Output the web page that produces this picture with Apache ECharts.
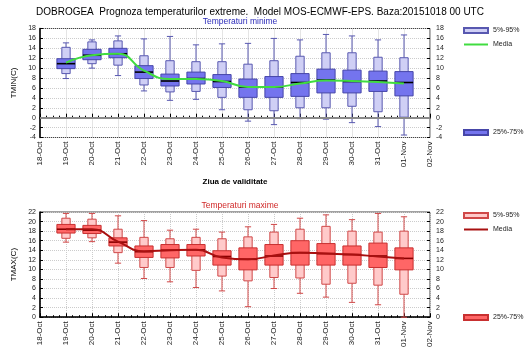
<!DOCTYPE html>
<html>
<head>
<meta charset="utf-8">
<script src="https://cdn.jsdelivr.net/npm/echarts@6/dist/echarts.min.js"></script>
<style>
  html, body { margin: 0; padding: 0; background: #fff; }
  #chart { width: 525px; height: 350px; }
</style>
</head>
<body>
<div id="chart"></div>
<script>
// zilele (etichete axa X)
var dates = ['18-Oct', '19-Oct', '20-Oct', '21-Oct', '22-Oct', '23-Oct', '24-Oct', '25-Oct',
  '26-Oct', '27-Oct', '28-Oct', '29-Oct', '30-Oct', '31-Oct', '01-Nov', '02-Nov'];

// TMIN - percentile pe zi (19-Oct .. 01-Nov)
var tminMax = [15.1, 15.7, 16.5, 15.9, 16.4, 14.7, 14.9, 15.0, 16.0, 15.7, 16.8, 16.5, 15.7, 16.7];
var tminP95 = [14.2, 15.3, 15.5, 12.5, 11.5, 11.3, 11.3, 10.8, 11.5, 12.4, 13.1, 13.1, 12.2, 12.1];
var tminP75 = [11.9, 13.8, 14.0, 10.5, 8.8, 9.2, 8.7, 7.8, 8.3, 8.9, 9.8, 9.6, 9.4, 9.3];
var tminMed = [10.9, 12.6, 12.9, 9.2, 7.4, 7.9, 7.3, 6.2, 6.2, 7.1, 7.6, 7.3, 7.4, 7.1];
var tminP25 = [9.9, 11.7, 12.1, 7.9, 6.4, 6.8, 6.1, 4.1, 4.1, 4.3, 5.0, 5.0, 5.3, 4.4];
var tminP5 = [8.9, 10.9, 10.6, 6.6, 5.2, 5.3, 4.1, 1.6, 1.4, 2.0, 2.0, 2.3, 1.2, 0.1];
var tminMin = [7.9, 10.0, 8.5, 5.4, 3.5, 3.7, 1.6, -0.7, -1.4, -0.2, -0.3, -1.0, -1.8, -3.5];
var tminMean = [11.1, 12.6, 12.9, 9.5, 7.8, 7.8, 7.4, 6.2, 6.2, 6.9, 7.5, 7.4, 7.2, 6.9];

// TMAX
var tmaxMax = [21.7, 21.7, 21.2, 20.2, 18.2, 18.4, 17.8, 18.9, 19.4, 20.7, 21.4, 20.4, 21.7, 21.0];
var tmaxP95 = [20.7, 20.5, 18.4, 16.7, 16.4, 16.7, 16.4, 16.8, 17.8, 18.4, 19.0, 18.0, 17.8, 18.0];
var tmaxP75 = [19.4, 19.2, 16.6, 14.9, 15.2, 15.2, 13.9, 14.5, 15.2, 16.0, 15.4, 14.9, 15.5, 14.5];
var tmaxMed = [18.4, 18.2, 15.7, 13.7, 14.0, 14.1, 12.7, 12.1, 12.8, 13.5, 13.3, 13.1, 12.8, 12.3];
var tmaxP25 = [17.6, 17.5, 14.9, 12.5, 12.4, 12.8, 10.9, 9.9, 10.9, 10.9, 10.9, 10.9, 10.4, 9.9];
var tmaxP5 = [16.5, 16.6, 13.5, 10.4, 10.4, 9.8, 8.6, 7.6, 8.3, 8.2, 6.9, 7.1, 6.7, 4.8];
var tmaxMin = [15.7, 15.8, 11.3, 8.1, 7.4, 6.2, 5.5, 2.2, 6.0, 5.0, 4.2, 3.1, 2.6, 0.0];
var tmaxMean = [18.4, 18.4, 15.8, 13.8, 14.0, 14.1, 12.5, 12.1, 12.9, 13.5, 13.3, 13.1, 12.7, 12.3];

var FONT = 'Liberation Sans';
var LINE_ICON = 'path://M0,0 L24,0 L24,2 L0,2 Z';

// date pentru seriile custom: [zi, min, p5, p95, max] si [zi, p25, med, p75]
function outerData(mn, p5, p95, mx) {
  return mn.map(function (v, i) { return [i + 1, v, p5[i], p95[i], mx[i]]; });
}
function innerData(p25, med, p75) {
  return p25.map(function (v, i) { return [i + 1, v, med[i], p75[i]]; });
}
function meanData(arr) {
  return arr.map(function (v, i) { return [i + 1, v]; });
}

// cutia 5%-95% + mustati
function outerRender(fill, stroke) {
  return function (params, api) {
    var x = api.value(0);
    var w = api.size([1, 0])[0];
    var pMin = api.coord([x, api.value(1)]);
    var p5 = api.coord([x, api.value(2)]);
    var p95 = api.coord([x, api.value(3)]);
    var pMax = api.coord([x, api.value(4)]);
    var bw = w * 0.32, cw = w * 0.24;
    var ls = { stroke: stroke, lineWidth: 1 };
    return {
      type: 'group',
      children: [
        { type: 'line', shape: { x1: pMax[0], y1: pMax[1], x2: p95[0], y2: p95[1] }, style: ls },
        { type: 'line', shape: { x1: p5[0], y1: p5[1], x2: pMin[0], y2: pMin[1] }, style: ls },
        { type: 'line', shape: { x1: pMax[0] - cw / 2, y1: pMax[1], x2: pMax[0] + cw / 2, y2: pMax[1] }, style: ls },
        { type: 'line', shape: { x1: pMin[0] - cw / 2, y1: pMin[1], x2: pMin[0] + cw / 2, y2: pMin[1] }, style: ls },
        { type: 'rect', shape: { x: p95[0] - bw / 2, y: p95[1], width: bw, height: p5[1] - p95[1] },
          style: { fill: fill, stroke: stroke, lineWidth: 1 } }
      ]
    };
  };
}

// cutia 25%-75% + mediana
function innerRender(fill, stroke, medColor) {
  return function (params, api) {
    var x = api.value(0);
    var w = api.size([1, 0])[0];
    var p25 = api.coord([x, api.value(1)]);
    var med = api.coord([x, api.value(2)]);
    var p75 = api.coord([x, api.value(3)]);
    var bw = w * 0.7;
    return {
      type: 'group',
      children: [
        { type: 'rect', shape: { x: p75[0] - bw / 2, y: p75[1], width: bw, height: p25[1] - p75[1] },
          style: { fill: fill, stroke: stroke, lineWidth: 1 } },
        { type: 'line', shape: { x1: med[0] - bw / 2, y1: med[1], x2: med[0] + bw / 2, y2: med[1] },
          style: { stroke: medColor, lineWidth: 1.6 } }
      ]
    };
  };
}

function xAxisCfg(gridIndex, name) {
  return {
    type: 'value', gridIndex: gridIndex, min: 0, max: 15, interval: 1,
    name: name, nameLocation: 'middle', nameGap: 40,
    nameTextStyle: { fontSize: 8, color: '#000', fontFamily: FONT, fontWeight: 'bold' },
    axisLine: { lineStyle: { color: '#000', width: 1.5 } },
    axisTick: { inside: true, length: 4, lineStyle: { color: '#000' } },
    minorTick: { show: true, splitNumber: 4, length: 2, lineStyle: { color: '#000' } },
    axisLabel: {
      rotate: 90, fontSize: 8, color: '#222', fontFamily: FONT, margin: 4,
      formatter: function (v) { return dates[v] || ''; }
    },
    splitLine: { show: true, lineStyle: { color: '#ccc', type: 'dotted' } }
  };
}

function yAxisCfg(gridIndex, min, max, name, right) {
  return {
    type: 'value', gridIndex: gridIndex, min: min, max: max, interval: 2,
    position: right ? 'right' : 'left',
    name: right ? '' : name, nameLocation: 'middle', nameGap: 22,
    nameTextStyle: { fontSize: 8, color: '#000', fontFamily: FONT },
    axisLine: { show: !right, lineStyle: { color: '#000', width: 1.5 } },
    axisTick: { show: true, inside: true, length: 3, lineStyle: { color: '#000' } },
    axisLabel: { fontSize: 7, color: '#222', fontFamily: FONT, margin: right ? 6 : 4 },
    splitLine: { show: !right, lineStyle: { color: '#ccc', type: 'dotted' } }
  };
}

var chart = echarts.init(document.getElementById('chart'), null, { renderer: 'canvas' });

var option = {
  animation: false,
  backgroundColor: '#fff',
  title: [
    { text: 'DOBROGEA  Prognoza temperaturilor extreme.  Model MOS-ECMWF-EPS. Baza:20151018 00 UTC',
      left: 31, top: 2, textStyle: { fontSize: 10, fontWeight: 'normal', color: '#000', fontFamily: FONT } },
    { text: 'Temperaturi minime', left: 235, top: 12, textAlign: 'center',
      textStyle: { fontSize: 8.5, fontWeight: 'normal', color: '#2a2ab8', fontFamily: FONT } },
    { text: 'Temperaturi maxime', left: 235, top: 196, textAlign: 'center',
      textStyle: { fontSize: 8.5, fontWeight: 'normal', color: '#d02828', fontFamily: FONT } }
  ],
  legend: [
    { data: [{ name: '5%-95%', icon: 'rect' }, { name: 'Media', icon: LINE_ICON }], orient: 'vertical', left: 463, top: 27,
      itemWidth: 24, itemHeight: 5, itemGap: 7, padding: 0, selectedMode: false,
      textStyle: { fontSize: 7, color: '#222', fontFamily: FONT } },
    { data: [{ name: '25%-75%', icon: 'rect' }], left: 463, top: 129,
      itemWidth: 24, itemHeight: 5, padding: 0, selectedMode: false,
      textStyle: { fontSize: 7, color: '#222', fontFamily: FONT } },
    { data: [{ name: '5%-95% ', icon: 'rect' }, { name: 'Media ', icon: LINE_ICON }], orient: 'vertical', left: 463, top: 212,
      itemWidth: 24, itemHeight: 5, itemGap: 7, padding: 0, selectedMode: false,
      textStyle: { fontSize: 7, color: '#222', fontFamily: FONT } },
    { data: [{ name: '25%-75% ', icon: 'rect' }], left: 463, top: 314,
      itemWidth: 24, itemHeight: 5, padding: 0, selectedMode: false,
      textStyle: { fontSize: 7, color: '#222', fontFamily: FONT } }
  ],
  grid: [
    { left: 40, right: 95, top: 28.5, height: 109, show: true, borderColor: '#444', borderWidth: 1 },
    { left: 40, right: 95, top: 212, height: 109.5, show: true, borderColor: '#444', borderWidth: 1 }
  ],
  xAxis: [xAxisCfg(0, 'Ziua de validitate'), xAxisCfg(1, '')],
  yAxis: [
    yAxisCfg(0, -4, 18, 'TMIN(C)', false),
    yAxisCfg(0, -4, 18, '', true),
    yAxisCfg(1, 0, 22, 'TMAX(C)', false),
    yAxisCfg(1, 0, 22, '', true)
  ],
  series: [
    {
      name: '5%-95%', type: 'custom', xAxisIndex: 0, yAxisIndex: 0,
      renderItem: outerRender('#cfcff5', '#5858b0'),
      itemStyle: { color: '#cfcff5', borderColor: '#5858b0', borderWidth: 1 },
      encode: { x: 0, y: [1, 2, 3, 4] },
      data: outerData(tminMin, tminP5, tminP95, tminMax),
      markLine: {
        silent: true, symbol: ['none', 'none'], label: { show: false },
        lineStyle: { color: '#8a8a8a', width: 2, type: 'solid' },
        data: [{ yAxis: 0 }]
      }
    },
    {
      name: '25%-75%', type: 'custom', xAxisIndex: 0, yAxisIndex: 0,
      renderItem: innerRender('#7474ee', '#4646a8', '#000'),
      itemStyle: { color: '#7474ee', borderColor: '#4646a8', borderWidth: 1 },
      encode: { x: 0, y: [1, 2, 3] },
      data: innerData(tminP25, tminMed, tminP75)
    },
    {
      name: 'Media', type: 'line', xAxisIndex: 0, yAxisIndex: 0, smooth: true,
      symbol: 'none', lineStyle: { color: '#40dc40', width: 2 }, itemStyle: { color: '#40dc40' },
      data: meanData(tminMean)
    },
    {
      name: '5%-95% ', type: 'custom', xAxisIndex: 1, yAxisIndex: 2,
      renderItem: outerRender('#ffcaca', '#d04848'),
      itemStyle: { color: '#ffcaca', borderColor: '#d04848', borderWidth: 1 },
      encode: { x: 0, y: [1, 2, 3, 4] },
      data: outerData(tmaxMin, tmaxP5, tmaxP95, tmaxMax)
    },
    {
      name: '25%-75% ', type: 'custom', xAxisIndex: 1, yAxisIndex: 2,
      renderItem: innerRender('#ff6666', '#c83030', '#8a0000'),
      itemStyle: { color: '#ff6666', borderColor: '#c83030', borderWidth: 1 },
      encode: { x: 0, y: [1, 2, 3] },
      data: innerData(tmaxP25, tmaxMed, tmaxP75)
    },
    {
      name: 'Media ', type: 'line', xAxisIndex: 1, yAxisIndex: 2, smooth: true,
      symbol: 'none', lineStyle: { color: '#a81010', width: 2 }, itemStyle: { color: '#a81010' },
      data: meanData(tmaxMean)
    }
  ]
};

chart.setOption(option);
</script>
</body>
</html>
